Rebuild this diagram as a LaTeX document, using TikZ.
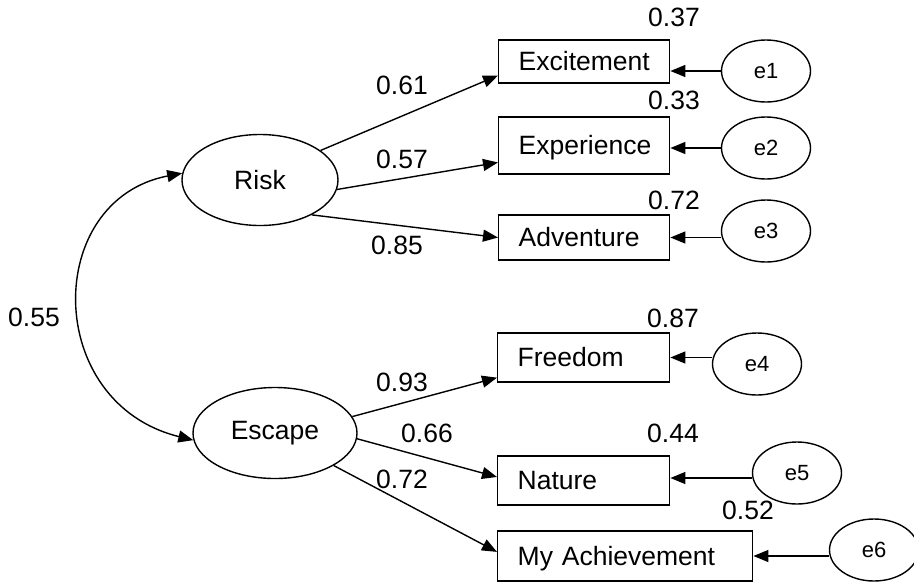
\documentclass[tikz,border=0pt]{standalone}
\usepackage{fontspec}
\setmainfont{Liberation Sans}
\usetikzlibrary{shapes.geometric,arrows.meta,calc}
\begin{document}
\begin{tikzpicture}[x=1pt,y=-1pt,line width=1.4pt,
  big/.style={font=\fontsize{26.5}{30}\selectfont},
  latent/.style={draw,ellipse,inner sep=0pt,big},
  obs/.style={draw,rectangle,anchor=west,inner xsep=20pt,inner ysep=0pt,
    align=left,text height=18.6pt,text depth=0pt,big},
  err/.style={draw,ellipse,minimum width=89pt,minimum height=62pt,inner sep=0pt,
    font=\fontsize{22}{26}\selectfont},
  coef/.style={inner sep=0pt,text height=18.6pt,text depth=0pt,big},
  link/.style={-{Triangle[length=15pt,width=12pt]}},
  twoway/.style={{Triangle[length=15pt,width=12pt]}-{Triangle[length=15pt,width=12pt]}}]
\useasboundingbox (0,0) rectangle (914,582);

% latent factors
\node[latent,minimum width=156pt,minimum height=91pt] (risk) at (260,180) {Risk};
\node[latent,minimum width=164pt,minimum height=91pt] (esc) at (275,433) {Escape};

% observed indicators
\node[obs,text width=131pt,minimum height=43pt] (exc) at (498,61.5) {Excitement};
\node[obs,text width=131pt,minimum height=57pt] (exp) at (498,145.5) {Experience};
\node[obs,text width=131pt,minimum height=45pt] (adv) at (498,237.5) {Adventure};
\node[obs,text width=132pt,minimum height=49pt] (fre) at (497,357.5) {Freedom};
\node[obs,text width=132pt,minimum height=49pt] (nat) at (497,480.5) {Nature};
\node[obs,text width=215pt,minimum height=50pt] (ach) at (497,556) {My Achievement};

% error terms
\node[err] (e1) at (766,71) {e1};
\node[err] (e2) at (766,148) {e2};
\node[err] (e3) at (766,231) {e3};
\node[err] (e4) at (757,364) {e4};
\node[err] (e5) at (797,473) {e5};
\node[err] (e6) at (874,550) {e6};

% factor loadings
\draw[link] (risk.26) -- ($(exc.west)!0.63!(exc.south west)$);
\draw[link] (risk.-7) -- ($(exp.west)!0.58!(exp.south west)$);
\draw[link] (risk.-34) -- (adv.west);
\draw[link] (esc.12) -- ($(fre.west)!0.8!(fre.south west)$);
\draw[link] (esc.-4) -- ($(nat.west)!0.14!(nat.north west)$);
\draw[link] (esc.-29) -- ($(ach.west)!0.16!(ach.north west)$);

% error paths
\draw[link] (e1.west) -- (e1.west -| exc.east);
\draw[link] (e2.west) -- (e2.west -| exp.east);
\draw[link] (adv.east -| e3.west) -- (adv.east);
\draw[link] (fre.east -| e4.west) -- (fre.east);
\draw[link] ([yshift=2.5pt]nat.east -| e5.west) -- ([yshift=2.5pt]nat.east);
\draw[link] (ach.east -| e6.west) -- (ach.east);

% factor covariance
\draw[twoway] (risk.175) .. controls (43,200) and (43,403) .. (esc.185);

% coefficients
\node[coef] (c055) at (34,317) {0.55};
\node[coef] (c061) at (402,85) {0.61};
\node[coef] (c057) at (402,159) {0.57};
\node[coef] (c085) at (397,245) {0.85};
\node[coef] (c093) at (402,382) {0.93};
\node[coef] (c066) at (427,433) {0.66};
\node[coef] (c072a) at (402,479) {0.72};
\node[coef] (r037) at (674,17) {0.37};
\node[coef] (r033) at (674,100) {0.33};
\node[coef] (r072) at (674,200) {0.72};
\node[coef] (r087) at (673,318) {0.87};
\node[coef] (r044) at (673,433) {0.44};
\node[coef] (r052) at (748,510) {0.52};
\end{tikzpicture}
\end{document}
